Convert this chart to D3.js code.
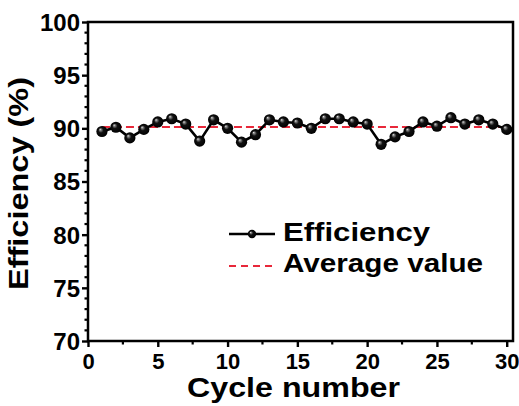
<!DOCTYPE html>
<html>
<head>
<meta charset="utf-8">
<script src="https://cdn.jsdelivr.net/npm/d3@7"></script>
<style>
  html, body { margin: 0; padding: 0; background: #fff; }
  svg { display: block; }
  text { font-family: "Liberation Sans", Arial, sans-serif; font-weight: bold; fill: #000; }
</style>
</head>
<body>
<svg id="chart" width="519" height="406"></svg>
<script>
// Cycle numbers and measured efficiency (%) per cycle
const cycles = d3.range(1, 31);
const efficiency = [
  89.7, 90.1, 89.1, 89.9, 90.6, 90.9, 90.4, 88.8, 90.8, 90.0,
  88.7, 89.4, 90.8, 90.6, 90.5, 90.0, 90.9, 90.9, 90.6, 90.4,
  88.5, 89.2, 89.7, 90.6, 90.2, 91.0, 90.4, 90.8, 90.4, 89.9
];
const averageValue = d3.mean(efficiency);

const xTicks = [0, 5, 10, 15, 20, 25, 30];
const yTicks = [70, 75, 80, 85, 90, 95, 100];
const legendLabels = ["Efficiency", "Average value"];
const xTitle = "Cycle number";
const yTitle = "Efficiency (%)";

const svg = d3.select("#chart");
const plot = { left: 88, right: 513, top: 22, bottom: 341 };

const x = d3.scaleLinear().domain([0, 30.45]).range([plot.left, plot.right]);
const y = d3.scaleLinear().domain([70, 100]).range([plot.bottom, plot.top]);

// Sphere-like marker shading
const defs = svg.append("defs");
const grad = defs.append("radialGradient")
  .attr("id", "ball").attr("cx", "0.5").attr("cy", "0.5").attr("r", "0.5")
  .attr("fx", "0.33").attr("fy", "0.3");
grad.append("stop").attr("offset", "0").attr("stop-color", "#f0f0f0");
grad.append("stop").attr("offset", "0.15").attr("stop-color", "#8a8a8a");
grad.append("stop").attr("offset", "0.45").attr("stop-color", "#111111");
grad.append("stop").attr("offset", "1").attr("stop-color", "#000000");

// Minor ticks
const yMinor = d3.range(70, 101, 1).filter(v => v % 5 !== 0);
svg.append("g").selectAll("line").data(yMinor).join("line")
  .attr("x1", plot.left - 3.5).attr("x2", plot.left)
  .attr("y1", d => y(d)).attr("y2", d => y(d))
  .attr("stroke", "#000").attr("stroke-width", 2.2);
const xMinor = d3.range(2.5, 30.1, 5);
svg.append("g").selectAll("line").data(xMinor).join("line")
  .attr("x1", d => x(d)).attr("x2", d => x(d))
  .attr("y1", plot.bottom).attr("y2", plot.bottom + 3.5)
  .attr("stroke", "#000").attr("stroke-width", 2.2);

// Axes
const xAxis = svg.append("g")
  .attr("transform", `translate(0,${plot.bottom})`)
  .call(d3.axisBottom(x).tickValues(xTicks).tickSize(6).tickPadding(5).tickFormat(d3.format("d")));
const yAxis = svg.append("g")
  .attr("transform", `translate(${plot.left},0)`)
  .call(d3.axisLeft(y).tickValues(yTicks).tickSize(6).tickPadding(2).tickFormat(d3.format("d")));
[xAxis, yAxis].forEach(g => {
  g.select(".domain").remove();
  g.selectAll(".tick line").attr("stroke", "#000").attr("stroke-width", 2.4);
  g.selectAll(".tick text")
    .style("font-family", "'Liberation Sans', Arial, sans-serif").style("font-weight", "bold");
});
xAxis.selectAll(".tick text").style("font-size", "22px").attr("dy", "0.78em");
yAxis.selectAll(".tick text").style("font-size", "24px").attr("dy", "0.35em");

// Frame
svg.append("rect")
  .attr("x", plot.left).attr("y", plot.top)
  .attr("width", plot.right - plot.left).attr("height", plot.bottom - plot.top)
  .attr("fill", "none").attr("stroke", "#000").attr("stroke-width", 2.5);

// Average line
svg.append("line")
  .attr("x1", x(1)).attr("x2", x(30))
  .attr("y1", y(averageValue)).attr("y2", y(averageValue))
  .attr("stroke", "#e8283a").attr("stroke-width", 2).attr("stroke-dasharray", "8,4");

// Efficiency line and markers
const pts = cycles.map((c, i) => [c, efficiency[i]]);
svg.append("path")
  .datum(pts)
  .attr("d", d3.line().x(d => x(d[0])).y(d => y(d[1])))
  .attr("fill", "none").attr("stroke", "#000").attr("stroke-width", 2.6);
svg.append("g").selectAll("circle").data(pts).join("circle")
  .attr("cx", d => x(d[0])).attr("cy", d => y(d[1])).attr("r", 5.6)
  .attr("fill", "url(#ball)");

// Axis titles
svg.append("text")
  .attr("x", 187).attr("y", 397)
  .attr("textLength", 213).attr("lengthAdjust", "spacingAndGlyphs")
  .style("font-size", "27px").text(xTitle);
svg.append("text")
  .attr("transform", "translate(28,290) rotate(-90)")
  .attr("textLength", 213).attr("lengthAdjust", "spacingAndGlyphs")
  .style("font-size", "27px").text(yTitle);

// Legend
const legend = svg.append("g");
legend.append("line")
  .attr("x1", 229).attr("x2", 275).attr("y1", 234).attr("y2", 234)
  .attr("stroke", "#000").attr("stroke-width", 2.6);
legend.append("circle").attr("cx", 252).attr("cy", 234).attr("r", 4.2).attr("fill", "url(#ball)");
legend.append("line")
  .attr("x1", 229).attr("x2", 275).attr("y1", 266).attr("y2", 266)
  .attr("stroke", "#e8283a").attr("stroke-width", 2).attr("stroke-dasharray", "7,5");
legend.selectAll("text").data(legendLabels).join("text")
  .attr("x", 283).attr("y", (d, i) => 241 + i * 31)
  .attr("textLength", (d, i) => i === 0 ? 147 : 200).attr("lengthAdjust", "spacingAndGlyphs")
  .style("font-size", "26px").text(d => d);
</script>
</body>
</html>
